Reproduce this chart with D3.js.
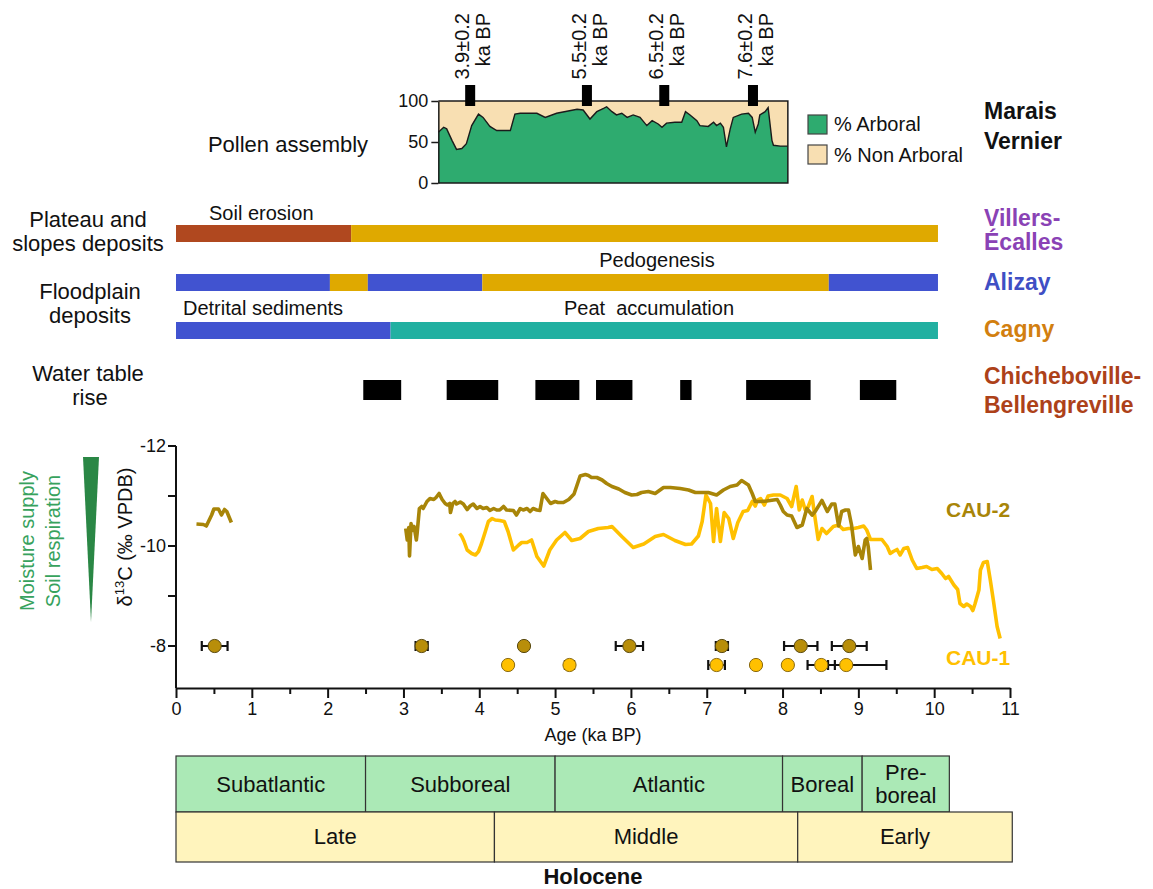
<!DOCTYPE html>
<html><head><meta charset="utf-8">
<script src="https://cdn.jsdelivr.net/npm/d3@7"></script>
<style>
body{margin:0;background:#fff}
svg{display:block}
text{font-family:"Liberation Sans",Arial,Helvetica,sans-serif;fill:#111}
</style>
</head><body>
<svg id="chart" width="1153" height="889"></svg>
<script>
// ---------------- DATA ----------------
const ageTicks = [0,1,2,3,4,5,6,7,8,9,10,11];
const d13cTicks = [-12,-11,-10,-9,-8];
const d13cTickLabels = ["-12","","-10","","-8"];
const pollenTicks = [0,50,100];

// Marais Vernier pollen: [age ka BP, % arboreal]
const pollenArboreal = [[3.46,62],[3.53,68],[3.57,66],[3.64,52],[3.70,41],[3.77,42],[3.83,48],[3.90,70],[3.99,84],[4.05,80],[4.14,69],[4.23,64],[4.41,64],[4.47,84],[4.54,85],[4.76,85],[4.87,80],[5.02,85],[5.29,90],[5.37,89],[5.46,78],[5.55,87],[5.64,91],[5.68,93],[5.75,87],[5.81,83],[5.88,85],[5.95,80],[6.03,83],[6.12,80],[6.21,70],[6.28,76],[6.36,72],[6.41,68],[6.47,73],[6.58,74],[6.67,74],[6.72,87],[6.78,83],[6.87,76],[6.91,70],[7.02,69],[7.09,74],[7.13,70],[7.18,73],[7.22,68],[7.26,44],[7.31,66],[7.35,80],[7.46,84],[7.55,85],[7.60,80],[7.64,62],[7.68,72],[7.70,83],[7.77,87],[7.81,92],[7.86,52],[7.88,46],[7.97,45],[8.07,45]];
const pollenMarkerAge = [3.88,5.42,6.44,7.61];
const pollenMarkerLabel = ["3.9±0.2","5.5±0.2","6.5±0.2","7.6±0.2"];

// Deposits bars: break ages and kinds
const plateauBreaks = [0,2.31,10.05];
const plateauKinds = ["erosion","pedogenesis"];
const alizayBreaks = [0,2.03,2.53,4.04,8.61,10.05];
const alizayKinds = ["detrital","pedogenesis","detrital","pedogenesis","detrital"];
const cagnyBreaks = [0,2.83,10.05];
const cagnyKinds = ["detrital","peat"];

// Water table rise intervals
const waterStart = [2.47,3.57,4.74,5.54,6.65,7.52,9.02];
const waterEnd   = [2.97,4.25,5.32,6.02,6.80,8.37,9.50];

// d13C records: [age ka BP, d13C permil]
const cau2SegA = [[0.27,-10.44],[0.36,-10.43],[0.40,-10.40],[0.47,-10.62],[0.50,-10.74],[0.56,-10.74],[0.60,-10.62],[0.64,-10.73],[0.67,-10.69],[0.73,-10.47]];
const cau2SegB = [[3.03,-10.35],[3.05,-10.12],[3.07,-10.37],[3.08,-9.80],[3.10,-10.45],[3.11,-10.31],[3.14,-10.39],[3.17,-10.12],[3.18,-10.25],[3.21,-10.75],[3.24,-10.79],[3.26,-10.75],[3.31,-10.89],[3.35,-10.95],[3.40,-10.93],[3.43,-10.97],[3.47,-11.05],[3.51,-10.93],[3.55,-10.85],[3.58,-10.82],[3.61,-10.85],[3.62,-10.67],[3.65,-10.85],[3.68,-10.89],[3.70,-10.84],[3.75,-10.88],[3.79,-10.84],[3.84,-10.73],[3.88,-10.80],[3.92,-10.84],[3.97,-10.75],[4.01,-10.79],[4.05,-10.75],[4.10,-10.77],[4.14,-10.71],[4.19,-10.75],[4.23,-10.72],[4.27,-10.72],[4.32,-10.79],[4.36,-10.72],[4.45,-10.71],[4.49,-10.62],[4.54,-10.75],[4.58,-10.72],[4.63,-10.75],[4.67,-10.69],[4.71,-10.75],[4.76,-10.72],[4.80,-10.71],[4.84,-11.05],[4.89,-10.95],[4.94,-10.85],[5.00,-10.89],[5.04,-10.87],[5.11,-10.87],[5.18,-10.93],[5.25,-11.04],[5.33,-11.40],[5.40,-11.43],[5.44,-11.41],[5.48,-11.37],[5.55,-11.37],[5.62,-11.32],[5.68,-11.25],[5.75,-11.19],[5.84,-11.14],[5.92,-11.07],[6.01,-11.02],[6.08,-11.03],[6.14,-11.07],[6.23,-11.09],[6.32,-11.05],[6.43,-11.17],[6.52,-11.17],[6.65,-11.15],[6.76,-11.12],[6.85,-11.07],[6.94,-11.07],[7.02,-11.07],[7.13,-11.02],[7.22,-11.12],[7.31,-11.19],[7.40,-11.22],[7.46,-11.31],[7.55,-11.22],[7.60,-11.05],[7.64,-10.89],[7.70,-10.89],[7.79,-10.90],[7.88,-10.92],[7.93,-10.93],[7.97,-10.82],[8.01,-10.69],[8.06,-10.62],[8.12,-10.60],[8.19,-10.37],[8.26,-10.42],[8.32,-10.75],[8.39,-10.62],[8.43,-10.69],[8.52,-10.91],[8.59,-10.69],[8.65,-10.84],[8.69,-10.84],[8.74,-10.40],[8.78,-10.69],[8.83,-10.72],[8.87,-10.72],[8.91,-10.42],[8.96,-9.82],[9.00,-9.99],[9.05,-9.75],[9.09,-10.12],[9.11,-10.15],[9.13,-9.99],[9.16,-9.52]];
const cau1 = [[3.74,-10.25],[3.77,-10.19],[3.80,-10.09],[3.84,-9.92],[3.90,-9.85],[3.95,-9.82],[3.99,-9.89],[4.03,-10.05],[4.08,-10.29],[4.12,-10.49],[4.17,-10.55],[4.21,-10.52],[4.27,-10.51],[4.33,-10.49],[4.38,-10.29],[4.45,-9.92],[4.52,-10.02],[4.56,-10.07],[4.63,-10.07],[4.69,-10.12],[4.76,-9.79],[4.85,-9.60],[4.93,-9.92],[5.02,-10.12],[5.13,-10.27],[5.22,-10.11],[5.33,-10.15],[5.44,-10.29],[5.57,-10.35],[5.70,-10.37],[5.75,-10.39],[5.88,-10.19],[6.03,-9.97],[6.17,-10.04],[6.32,-10.19],[6.43,-10.23],[6.58,-10.11],[6.72,-10.03],[6.80,-10.04],[6.89,-10.20],[6.94,-10.49],[6.99,-11.02],[7.05,-10.85],[7.09,-10.09],[7.13,-10.75],[7.18,-10.09],[7.23,-10.67],[7.29,-10.55],[7.35,-10.15],[7.41,-10.47],[7.48,-10.69],[7.54,-10.71],[7.60,-10.89],[7.64,-10.80],[7.67,-10.92],[7.71,-10.95],[7.76,-10.82],[7.81,-11.00],[7.88,-11.02],[7.97,-11.02],[8.06,-10.95],[8.12,-10.79],[8.18,-11.19],[8.22,-10.72],[8.26,-10.92],[8.30,-10.72],[8.34,-10.79],[8.39,-10.99],[8.42,-10.65],[8.47,-10.13],[8.52,-10.35],[8.58,-10.25],[8.67,-10.39],[8.74,-10.42],[8.80,-10.33],[8.87,-10.35],[8.94,-10.35],[9.00,-10.37],[9.07,-10.40],[9.11,-10.32],[9.16,-10.13],[9.22,-10.13],[9.31,-10.13],[9.38,-9.99],[9.42,-9.85],[9.46,-9.89],[9.51,-9.93],[9.55,-9.82],[9.60,-9.95],[9.65,-9.97],[9.71,-9.72],[9.77,-9.55],[9.84,-9.57],[9.90,-9.59],[9.97,-9.53],[10.04,-9.55],[10.10,-9.45],[10.15,-9.35],[10.19,-9.39],[10.26,-9.22],[10.31,-9.13],[10.34,-8.85],[10.39,-8.79],[10.43,-8.84],[10.48,-8.79],[10.51,-8.71],[10.54,-8.85],[10.59,-9.12],[10.61,-9.52],[10.65,-9.67],[10.70,-9.69],[10.74,-9.32],[10.78,-8.92],[10.83,-8.39],[10.87,-8.15]];

// Radiocarbon dates (ka BP) with errors
const cau2DateAge = [0.51,3.24,4.59,5.98,7.20,8.24,8.88];
const cau2DateErrMinus = [0.17,0.08,0,0.18,0.08,0.22,0.23];
const cau2DateErrPlus  = [0.17,0.08,0,0.18,0.08,0.22,0.23];
const cau1DateAge = [4.38,5.19,7.13,7.65,8.07,8.51,8.84];
const cau1DateErrMinus = [0,0.06,0.11,0,0,0.18,0.24];
const cau1DateErrPlus  = [0,0.06,0.11,0,0,0.18,0.53];
const dateRowValue = {cau2:-8, cau1:-7.62};

// Chronozones
const periodBreaks = [0,2.5,5.0,8.0,9.05,10.2];
const periodNames = [["Subatlantic"],["Subboreal"],["Atlantic"],["Boreal"],["Pre-","boreal"]];
const stageBreaks = [0,4.2,8.2,11.03];
const stageNames = ["Late","Middle","Early"];

// ---------------- STYLE ----------------
const C = {
  erosion:"#b0481f", pedogenesis:"#dfa900", detrital:"#4153d0", peat:"#21b0a1",
  arboreal:"#2eab6f", nonArboreal:"#f8dfb2",
  cau2:"#a88508", cau1:"#ffc000", cau2Dot:"#b88e0a",
  villers:"#8a42b5", alizay:"#3f4fc4", cagny:"#d27f10", chiche:"#ad4119",
  period:"#abe9b6", stage:"#fff4bd", green:"#2a8745", greenText:"#37a25d"
};

// ---------------- DRAW ----------------
const svg = d3.select("#chart");
const x = d3.scaleLinear().domain([0,11]).range([176,1010]);
const y = d3.scaleLinear().domain([-12,-8]).range([446,646]);
const axisBottomY = 688;
const py = d3.scaleLinear().domain([0,100]).range([183,101]);

function txt(g, s, X, Y, opts={}) {
  const t = g.append("text").attr("x",X).attr("y",Y).text(s)
    .attr("font-size", opts.size||20)
    .attr("text-anchor", opts.anchor||"start");
  if (opts.bold) t.attr("font-weight","bold");
  if (opts.fill) t.style("fill", opts.fill);
  return t;
}

// ---- Pollen panel ----
const pg = svg.append("g");
const pStart = pollenArboreal[0][0], pEnd = pollenArboreal[pollenArboreal.length-1][0];
pg.append("path").datum(pollenArboreal)
  .attr("d", d3.area().x(d=>x(d[0])).y0(py(100)).y1(d=>py(d[1])))
  .attr("fill", C.nonArboreal);
pg.append("path").datum(pollenArboreal)
  .attr("d", d3.area().x(d=>x(d[0])).y0(py(0)).y1(d=>py(d[1])))
  .attr("fill", C.arboreal);
pg.append("path").datum(pollenArboreal)
  .attr("d", d3.line().x(d=>x(d[0])).y(d=>py(d[1])))
  .attr("fill","none").attr("stroke","#1b1b1b").attr("stroke-width",1.4);
pg.append("path")
  .attr("d", `M${x(pStart)},${py(100)}H${x(pEnd)}V${py(0)}H${x(pStart)}`)
  .attr("fill","none").attr("stroke","#1b1b1b").attr("stroke-width",1.5);
const pAxis = pg.append("g").attr("transform",`translate(${x(pStart)},0)`)
  .call(d3.axisLeft(py).tickValues(pollenTicks).tickSize(7).tickSizeOuter(0).tickPadding(3));
pAxis.select(".domain").attr("stroke","#1b1b1b").attr("stroke-width",1.5);
pAxis.selectAll(".tick line").attr("stroke","#1b1b1b").attr("stroke-width",1.5);
pAxis.selectAll(".tick text").attr("font-size",18).attr("font-family","Liberation Sans, Arial").style("fill","#111");

pollenMarkerAge.forEach((a,i)=>{
  pg.append("rect").attr("x",x(a)-5).attr("y",85).attr("width",10).attr("height",21).attr("fill","#000");
  const g1 = pg.append("g").attr("transform",`translate(${x(a)-1},13) rotate(-90)`);
  txt(g1, pollenMarkerLabel[i], 0, 0, {anchor:"end", size:20});
  const g2 = pg.append("g").attr("transform",`translate(${x(a)+20},13) rotate(-90)`);
  txt(g2, "ka BP", 0, 0, {anchor:"end", size:20});
});

// legend
pg.append("rect").attr("x",808).attr("y",115).attr("width",19).attr("height",19)
  .attr("fill",C.arboreal).attr("stroke","#444").attr("stroke-width",1.2);
pg.append("rect").attr("x",808).attr("y",145).attr("width",19).attr("height",19)
  .attr("fill",C.nonArboreal).attr("stroke","#444").attr("stroke-width",1.2);
txt(pg,"% Arboral",834,131,{size:20});
txt(pg,"% Non Arboral",834,162,{size:20});

// ---- Left labels ----
const lg = svg.append("g");
txt(lg,"Pollen assembly",288,152,{anchor:"middle",size:22});
txt(lg,"Plateau and",88,227,{anchor:"middle",size:22});
txt(lg,"slopes deposits",88,251,{anchor:"middle",size:22});
txt(lg,"Floodplain",90,299,{anchor:"middle",size:22});
txt(lg,"deposits",90,323,{anchor:"middle",size:22});
txt(lg,"Water table",88,381,{anchor:"middle",size:22});
txt(lg,"rise",90,405,{anchor:"middle",size:22});

// ---- Right labels ----
const rg = svg.append("g");
txt(rg,"Marais",984,119,{size:23,bold:true});
txt(rg,"Vernier",984,149,{size:23,bold:true});
txt(rg,"Villers-",984,226,{size:23,bold:true,fill:C.villers});
txt(rg,"Écalles",984,250,{size:23,bold:true,fill:C.villers});
txt(rg,"Alizay",984,290,{size:23,bold:true,fill:C.alizay});
txt(rg,"Cagny",984,337,{size:23,bold:true,fill:C.cagny});
txt(rg,"Chicheboville-",984,384,{size:23,bold:true,fill:C.chiche});
txt(rg,"Bellengreville",984,413,{size:23,bold:true,fill:C.chiche});

// ---- Deposit bars ----
function drawBar(breaks, kinds, top) {
  kinds.forEach((k,i)=>{
    svg.append("rect").attr("x",x(breaks[i])).attr("y",top)
      .attr("width",x(breaks[i+1])-x(breaks[i])).attr("height",17).attr("fill",C[k]);
  });
}
drawBar(plateauBreaks, plateauKinds, 225);
drawBar(alizayBreaks, alizayKinds, 274);
drawBar(cagnyBreaks, cagnyKinds, 322);
txt(svg,"Soil erosion",209,220,{size:20});
txt(svg,"Pedogenesis",657,267,{size:20,anchor:"middle"});
txt(svg,"Detrital sediments",183,315,{size:20});
txt(svg,"Peat  accumulation",649,315,{size:20,anchor:"middle"}).attr("xml:space","preserve").style("white-space","pre");

// water table
waterStart.forEach((s,i)=>{
  svg.append("rect").attr("x",x(s)).attr("y",380).attr("width",x(waterEnd[i])-x(s)).attr("height",20).attr("fill","#000");
});

// ---- d13C panel ----
const mg = svg.append("g");
mg.append("line").attr("x1",176).attr("x2",176).attr("y1",y(-12)).attr("y2",axisBottomY)
  .attr("stroke","#111").attr("stroke-width",2);
d13cTicks.forEach((v,i)=>{
  mg.append("line").attr("x1",168).attr("x2",176).attr("y1",y(v)).attr("y2",y(v)).attr("stroke","#111").attr("stroke-width",2);
  if (d13cTickLabels[i]) txt(mg,d13cTickLabels[i],166,y(v)+6,{anchor:"end",size:18});
});
const xa = mg.append("g").attr("transform",`translate(0,${axisBottomY})`)
  .call(d3.axisBottom(x).tickValues(ageTicks).tickSize(10).tickSizeOuter(0).tickPadding(4));
xa.select(".domain").attr("stroke","#111").attr("stroke-width",2);
xa.selectAll(".tick line").attr("stroke","#111").attr("stroke-width",2);
xa.selectAll(".tick text").attr("font-size",18).attr("font-family","Liberation Sans, Arial").style("fill","#111");
const xm = mg.append("g").attr("transform",`translate(0,${axisBottomY})`)
  .call(d3.axisBottom(x).tickValues(d3.range(0.5,11,1)).tickSize(6).tickFormat(""));
xm.select(".domain").remove();
xm.selectAll(".tick line").attr("stroke","#111").attr("stroke-width",2);
txt(mg,"Age (ka BP)",x(5.5),741,{anchor:"middle",size:18});

const yl = mg.append("g").attr("transform","translate(132,537) rotate(-90)");
const ylt = yl.append("text").attr("text-anchor","middle").attr("font-size",20);
ylt.append("tspan").text("δ");
ylt.append("tspan").text("13").attr("font-size",13).attr("dy",-8);
ylt.append("tspan").text("C (‰ VPDB)").attr("dy",8);

mg.append("path").attr("d","M83,457L99,457L91,622Z").attr("fill",C.green);
const ml1 = mg.append("g").attr("transform","translate(34,541) rotate(-90)");
txt(ml1,"Moisture supply",0,0,{anchor:"middle",size:20,fill:C.greenText});
const ml2 = mg.append("g").attr("transform","translate(60,541) rotate(-90)");
txt(ml2,"Soil respiration",0,0,{anchor:"middle",size:20,fill:C.greenText});

const line = d3.line().x(d=>x(d[0])).y(d=>y(d[1]));
mg.append("path").datum(cau1).attr("d",line).attr("fill","none").attr("stroke",C.cau1).attr("stroke-width",3.6).attr("stroke-linejoin","round");
[cau2SegA,cau2SegB].forEach(seg=>{
  mg.append("path").datum(seg).attr("d",line).attr("fill","none").attr("stroke",C.cau2).attr("stroke-width",3.6).attr("stroke-linejoin","round");
});
txt(mg,"CAU-2",946,517,{size:21,bold:true,fill:C.cau2});
txt(mg,"CAU-1",946,665,{size:21,bold:true,fill:C.cau1});

function drawDates(ages, em, ep, v, fill, stroke) {
  const yy = y(v);
  ages.forEach((a,i)=>{
    if (em[i]>0 || ep[i]>0) {
      const x1 = x(a-em[i]), x2 = x(a+ep[i]);
      mg.append("line").attr("x1",x1).attr("x2",x2).attr("y1",yy).attr("y2",yy).attr("stroke","#111").attr("stroke-width",2);
      mg.append("line").attr("x1",x1).attr("x2",x1).attr("y1",yy-5).attr("y2",yy+5).attr("stroke","#111").attr("stroke-width",2.2);
      mg.append("line").attr("x1",x2).attr("x2",x2).attr("y1",yy-5).attr("y2",yy+5).attr("stroke","#111").attr("stroke-width",2.2);
    }
  });
  ages.forEach(a=>{
    mg.append("circle").attr("cx",x(a)).attr("cy",yy).attr("r",6.6).attr("fill",fill).attr("stroke",stroke).attr("stroke-width",1);
  });
}
drawDates(cau2DateAge,cau2DateErrMinus,cau2DateErrPlus,dateRowValue.cau2,C.cau2Dot,"#5a4a10");
drawDates(cau1DateAge,cau1DateErrMinus,cau1DateErrPlus,dateRowValue.cau1,C.cau1,"#8a6a10");

// ---- Chronozones ----
const cg = svg.append("g");
periodNames.forEach((n,i)=>{
  const x0 = x(periodBreaks[i]), x1 = x(periodBreaks[i+1]);
  cg.append("rect").attr("x",x0).attr("y",756).attr("width",x1-x0).attr("height",56)
    .attr("fill",C.period).attr("stroke","#333").attr("stroke-width",1.2);
  if (n.length===1) txt(cg,n[0],(x0+x1)/2,792,{anchor:"middle",size:22});
  else { txt(cg,n[0],(x0+x1)/2,780,{anchor:"middle",size:22}); txt(cg,n[1],(x0+x1)/2,803,{anchor:"middle",size:22}); }
});
stageNames.forEach((n,i)=>{
  const x0 = x(stageBreaks[i]), x1 = x(stageBreaks[i+1]);
  cg.append("rect").attr("x",x0).attr("y",812).attr("width",x1-x0).attr("height",50)
    .attr("fill",C.stage).attr("stroke","#333").attr("stroke-width",1.2);
  txt(cg,n,(x0+x1)/2,844,{anchor:"middle",size:22});
});
txt(cg,"Holocene",x(5.5),884,{anchor:"middle",size:22,bold:true});
</script>
</body></html>
